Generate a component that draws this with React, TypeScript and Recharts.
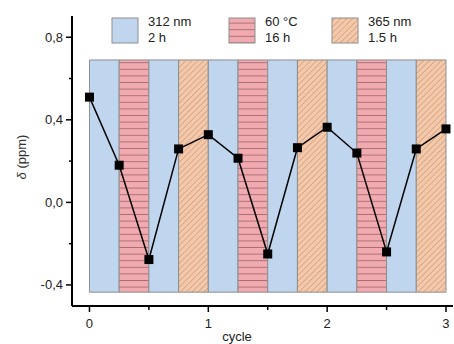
import {
  ComposedChart,
  Line,
  ReferenceArea,
  XAxis,
  YAxis,
} from "recharts";

const cycle = [0, 0.25, 0.5, 0.75, 1, 1.25, 1.5, 1.75, 2, 2.25, 2.5, 2.75, 3];
const delta = [0.51, 0.18, -0.277, 0.259, 0.328, 0.214, -0.25, 0.265, 0.364, 0.239, -0.24, 0.259, 0.356];

const bandKinds = [
  "uv312", "heat", "uv312", "uv365",
  "uv312", "heat", "uv312", "uv365",
  "uv312", "heat", "uv312", "uv365",
];
const bandTop = 0.69;
const bandBottom = -0.435;

const xTicks = [0, 0.5, 1, 1.5, 2, 2.5, 3];
const yTicks = [-0.4, -0.2, 0, 0.2, 0.4, 0.6, 0.8];

const legendItems = [
  { kind: "uv312", line1: "312 nm", line2: "2 h" },
  { kind: "heat", line1: "60 °C", line2: "16 h" },
  { kind: "uv365", line1: "365 nm", line2: "1.5 h" },
];

const FILLS: Record<string, string> = {
  uv312: "#c0d6ee",
  heat: "url(#heatPattern)",
  uv365: "url(#uv365Pattern)",
};

const FONT = "'Liberation Sans', Arial, sans-serif";

const data = cycle.map((c, i) => ({ cycle: c, delta: delta[i] }));

function XTick({ x, y, payload }: any) {
  const major = Number.isInteger(payload.value);
  return (
    <g>
      <line x1={x} x2={x} y1={y} y2={y + (major ? 6 : 4)} stroke="#000" strokeWidth={1.5} />
      {major && (
        <text x={x} y={y + 22} textAnchor="middle" fontSize={13} fill="#222" fontFamily={FONT}>
          {payload.value}
        </text>
      )}
    </g>
  );
}

function YTick({ x, y, payload }: any) {
  const v = payload.value as number;
  const major = Math.round(v * 10) % 4 === 0;
  const label = v.toFixed(1).replace(".", ",");
  return (
    <g>
      <line x1={x - (major ? 6 : 3)} x2={x} y1={y} y2={y} stroke="#000" strokeWidth={1.5} />
      {major && (
        <text x={x - 9} y={y + 4.5} textAnchor="end" fontSize={13} fill="#222" fontFamily={FONT}>
          {label}
        </text>
      )}
    </g>
  );
}

function SquareDot({ cx, cy, index }: any) {
  return <rect key={index} x={cx - 4.5} y={cy - 4.5} width={9} height={9} fill="#000" />;
}

export default function App() {
  return (
    <div style={{ position: "absolute", left: 0, top: 0, width: 454, height: 344, background: "#fff" }}>
      <ComposedChart
        width={454}
        height={344}
        data={data}
        margin={{ top: 16, right: 1, left: 0, bottom: 0 }}
      >
        <defs>
          <pattern id="heatPattern" patternUnits="userSpaceOnUse" width={8} height={6.6}>
            <rect width={8} height={6.6} fill="#f0aab0" />
            <line x1={0} x2={8} y1={3.3} y2={3.3} stroke="#9a6268" strokeWidth={0.8} />
          </pattern>
          <pattern
            id="uv365Pattern"
            patternUnits="userSpaceOnUse"
            width={4.2}
            height={4.2}
            patternTransform="rotate(45)"
          >
            <rect width={4.2} height={4.2} fill="#f6c8a8" />
            <line x1={2.1} x2={2.1} y1={0} y2={4.2} stroke="#b89a84" strokeWidth={0.6} />
          </pattern>
        </defs>
        <XAxis
          dataKey="cycle"
          type="number"
          domain={[-0.147, 3.059]}
          ticks={xTicks}
          interval={0}
          height={38}
          tickSize={0}
          tickMargin={0}
          tickLine={false}
          axisLine={{ stroke: "#000", strokeWidth: 2 }}
          tick={<XTick />}
          allowDataOverflow
        />
        <YAxis
          type="number"
          domain={[-0.502, 0.903]}
          ticks={yTicks}
          interval={0}
          width={72}
          tickSize={0}
          tickMargin={0}
          tickLine={false}
          axisLine={{ stroke: "#000", strokeWidth: 2 }}
          tick={<YTick />}
          allowDataOverflow
        />
        {bandKinds.map((kind, i) => (
          <ReferenceArea
            key={i}
            x1={cycle[i]}
            x2={cycle[i + 1]}
            y1={bandBottom}
            y2={bandTop}
            fill={FILLS[kind]}
            fillOpacity={1}
            stroke="#8e8e8e"
            strokeWidth={1}
            ifOverflow="visible"
          />
        ))}
        <Line
          dataKey="delta"
          stroke="#000"
          strokeWidth={1.5}
          dot={<SquareDot />}
          activeDot={false}
          isAnimationActive={false}
        />
        <g fontFamily={FONT}>
          {legendItems.map((item, i) => {
            const bx = [112, 229, 332][i];
            return (
              <g key={item.kind}>
                <rect x={bx} y={18} width={26} height={25} fill={FILLS[item.kind]} stroke="#8e8e8e" strokeWidth={1} />
                <text x={bx + 36} y={26} fontSize={13} fill="#222">{item.line1}</text>
                <text x={bx + 36} y={42} fontSize={13} fill="#222">{item.line2}</text>
              </g>
            );
          })}
          <text x={237} y={341} textAnchor="middle" fontSize={13} fill="#222">cycle</text>
          <text
            x={26}
            y={157}
            textAnchor="middle"
            fontSize={13}
            fill="#333"
            transform="rotate(-90, 26, 157)"
          >
            <tspan fontStyle="italic">δ</tspan> (ppm)
          </text>
        </g>
      </ComposedChart>
    </div>
  );
}
